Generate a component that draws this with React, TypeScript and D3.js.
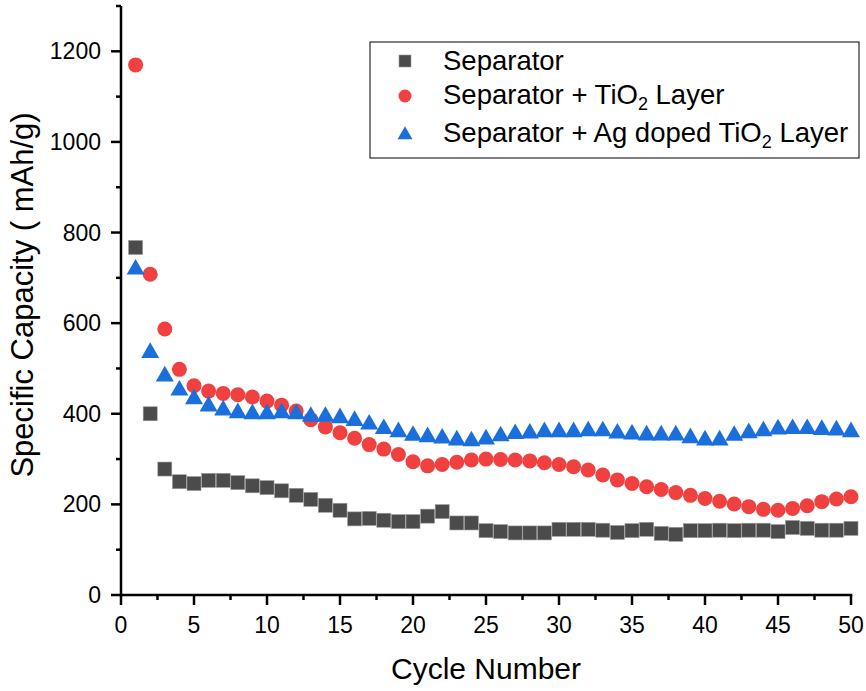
import React, { useLayoutEffect } from "react";
import * as d3 from "d3";

const cycles = d3.range(1, 51);

const separator = [
  767, 400, 278, 250, 246, 253, 253, 248, 241, 237,
  230, 220, 211, 198, 187, 168, 169, 165, 162, 162,
  174, 184, 159, 159, 142, 140, 137, 137, 137, 145,
  145, 145, 143, 138, 142, 145, 136, 134, 142, 142,
  143, 142, 143, 143, 140, 149, 147, 143, 143, 147,
];

const tio2 = [
  1170, 708, 587, 498, 462, 450, 445, 442, 437, 428,
  419, 406, 387, 371, 358, 346, 332, 322, 310, 294,
  285, 288, 293, 298, 300, 299, 298, 296, 292, 288,
  283, 276, 265, 254, 246, 239, 233, 226, 220, 213,
  207, 201, 195, 189, 187, 191, 197, 206, 212, 217,
];

const agTio2 = [
  721, 537, 485, 454, 435, 419, 410, 404, 402, 402,
  404, 402, 396, 396, 393, 387, 379, 369, 362, 354,
  351, 348, 344, 342, 346, 353, 358, 359, 362, 362,
  362, 364, 364, 359, 357, 355, 355, 355, 349, 344,
  344, 354, 360, 364, 368, 369, 369, 367, 366, 362,
];

const xTicks = [0, 5, 10, 15, 20, 25, 30, 35, 40, 45, 50];
const xMinorTicks = [2.5, 7.5, 12.5, 17.5, 22.5, 27.5, 32.5, 37.5, 42.5, 47.5];
const yTicks = [0, 200, 400, 600, 800, 1000, 1200];
const yMinorTicks = [100, 300, 500, 700, 900, 1100, 1300];

const FONT = "'Liberation Sans', Arial, Helvetica, sans-serif";
const C_SEP = "#4b4b4b";
const C_TIO = "#f04040";
const C_AG = "#1b6fdd";

function Square({ x, y, s }: { x: number; y: number; s: number }) {
  return <rect x={x - s / 2} y={y - s / 2} width={s} height={s} fill={C_SEP} stroke="#9a9a9a" strokeWidth={0.6} />;
}
function Circle({ x, y, s }: { x: number; y: number; s: number }) {
  return <circle cx={x} cy={y} r={s / 2} fill={C_TIO} />;
}
function Tri({ x, y, s }: { x: number; y: number; s: number }) {
  const h = s * 0.87;
  const p = [
    [x, y - h * 0.6],
    [x + s / 2, y + h * 0.4],
    [x - s / 2, y + h * 0.4],
  ];
  return <polygon points={p.map((q) => q.join(",")).join(" ")} fill={C_AG} />;
}

export default function App() {
  useLayoutEffect(() => {
    document.body.style.margin = "0";
  }, []);

  const W = 866;
  const H = 691;
  const x = d3.scaleLinear().domain([0, 50]).range([121, 851]);
  const y = d3.scaleLinear().domain([0, 1300]).range([595, 6]);

  return (
    <svg width={W} height={H} style={{ display: "block", background: "#fff" }} fontFamily={FONT}>
      <rect width={W} height={H} fill="#fff" />
      {/* data */}
      <g>
        {separator.map((v, i) => (
          <Square key={"s" + i} x={x(cycles[i])} y={y(v)} s={14} />
        ))}
        {tio2.map((v, i) => (
          <Circle key={"c" + i} x={x(cycles[i])} y={y(v)} s={15} />
        ))}
        {agTio2.map((v, i) => (
          <Tri key={"t" + i} x={x(cycles[i])} y={y(v)} s={18} />
        ))}
      </g>
      {/* axes */}
      <g stroke="#000" strokeWidth={2.5} fill="none">
        <line x1={x(0)} x2={x(0)} y1={y(1300)} y2={y(0) + 1.25} />
        <line x1={x(0) - 1.25} x2={x(50) + 1.25} y1={y(0)} y2={y(0)} />
        {xTicks.map((t) => (
          <line key={"xt" + t} x1={x(t)} x2={x(t)} y1={y(0)} y2={y(0) + 10} />
        ))}
        {xMinorTicks.map((t) => (
          <line key={"xm" + t} x1={x(t)} x2={x(t)} y1={y(0)} y2={y(0) + 5} />
        ))}
        {yTicks.map((t) => (
          <line key={"yt" + t} x1={x(0) - 10} x2={x(0)} y1={y(t)} y2={y(t)} />
        ))}
        {yMinorTicks.map((t) => (
          <line key={"ym" + t} x1={x(0) - 5} x2={x(0)} y1={y(t)} y2={y(t)} />
        ))}
      </g>
      <g fontSize={23} fill="#000">
        {xTicks.map((t) => (
          <text key={"xl" + t} x={x(t)} y={633} textAnchor="middle">
            {t}
          </text>
        ))}
        {yTicks.map((t) => (
          <text key={"yl" + t} x={101} y={y(t) + 8} textAnchor="end">
            {t}
          </text>
        ))}
      </g>
      <text x={486} y={679} fontSize={30} textAnchor="middle" fill="#000">
        Cycle Number
      </text>
      <text
        transform={`translate(33,295) rotate(-90)`}
        fontSize={31}
        textAnchor="middle"
        fill="#000"
      >
        Specific Capacity ( mAh/g)
      </text>
      {/* legend */}
      <rect x={370} y={42} width={489} height={116} fill="#fff" stroke="#000" strokeWidth={1} />
      <Square x={405} y={61} s={12} />
      <Circle x={405} y={96} s={13} />
      <Tri x={405} y={134} s={15} />
      <g fontSize={27.5} fill="#000">
        <text x={443} y={70}>Separator</text>
        <text x={443} y={104}>
          Separator + TiO<tspan fontSize={18} dy={6}>2</tspan>
          <tspan dy={-6}> Layer</tspan>
        </text>
        <text x={443} y={142}>
          Separator + Ag doped TiO<tspan fontSize={18} dy={6}>2</tspan>
          <tspan dy={-6}> Layer</tspan>
        </text>
      </g>
    </svg>
  );
}
